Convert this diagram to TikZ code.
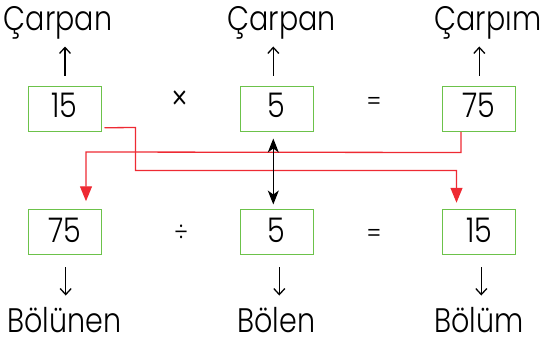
\documentclass[tikz,border=0pt]{standalone}
\usepackage{fontspec}
\setmainfont{Poppins Light}[FakeStretch=0.84]
\usetikzlibrary{arrows.meta,calc}
\definecolor{boxgreen}{HTML}{6CC24A}
\definecolor{linered}{HTML}{EE2A33}
\begin{document}
\begin{tikzpicture}[x=1pt,y=-1pt,
  numbox/.style={draw=boxgreen,line width=1pt,minimum width=73pt,minimum height=44.5pt,inner sep=0pt,text depth=0pt,font=\fontsize{34}{36}\selectfont},
  toprow/.style={numbox,text height=16.6pt},
  botrow/.style={numbox,text height=21pt},
  word/.style={inner sep=0pt,font=\fontsize{34}{36}\selectfont},
  opsign/.style={inner sep=0pt,font=\fontsize{26}{28}\selectfont},
  lblarrow/.style={line width=1.3pt,-{Straight Barb[length=6pt,width=11pt,line width=1.3pt]}},
  redline/.style={draw=linered,color=linered,line width=1.3pt,-{Triangle[length=15pt,width=12pt]}},
  dblarrow/.style={line width=1.2pt,{Stealth[length=14pt,width=11pt,inset=4pt]}-{Stealth[length=14pt,width=11pt,inset=4pt]}}]
\useasboundingbox (0,0) rectangle (542,341);
% top row
\node[toprow] (t1) at (64.5,109) {15};
\node[toprow] (t2) at (276.5,109) {5};
\node[toprow] (t3) at (479,109) {75};
\node[opsign,font=\fontsize{34}{36}\selectfont] (mul) at (180,100.5) {×};
\node[opsign] (eq1) at (374,103.5) {=};
% bottom row
\node[botrow] (b1) at (64.5,232) {75};
\node[botrow] (b2) at (276.5,232) {5};
\node[botrow] (b3) at (479,232) {15};
\node[opsign] (div) at (181,233) {÷};
\node[opsign] (eq2) at (374,235.5) {=};
% labels
\node[word,anchor=base] (l1) at (58,30) {Çarpan};
\node[word,anchor=base] (l2) at (281.5,30) {Çarpan};
\node[word,anchor=base] (l3) at (488,30) {Çarpım};
\node[word,anchor=base] (m1) at (64.5,332) {Bölünen};
\node[word,anchor=base] (m2) at (276.3,332) {Bölen};
\node[word,anchor=base] (m3) at (479,332) {Bölüm};
% label arrows
\draw[lblarrow] ($(t1.north)+(0.5,-10.75)$) -- ($(t1.north)+(0.5,-39.75)$);
\draw[lblarrow] ($(t2.north)+(-3.2,-10.75)$) -- ($(t2.north)+(-3.2,-39.75)$);
\draw[lblarrow] ($(t3.north)+(0.3,-10.75)$) -- ($(t3.north)+(0.3,-39.75)$);
\draw[lblarrow] ($(b1.south)+(1.2,12.5)$) -- ($(b1.south)+(1.2,40.75)$);
\draw[lblarrow] ($(b2.south)+(2.8,12.5)$) -- ($(b2.south)+(2.8,40.75)$);
\draw[lblarrow] ($(b3.south)+(2.3,12.5)$) -- ($(b3.south)+(2.3,40.75)$);
% red connectors
\coordinate (r1s) at ($(t1.south east)+(3,-4)$);
\coordinate (r1e) at ($(b3.north)+(-22.5,-6.5)$);
\coordinate (r1a) at (135.5,127.5);
\coordinate (r1b) at (135.5,170.5);
\draw[redline] (r1s) -- (r1a) -- (r1b) -| (r1e);
\coordinate (r2s) at ($(t3.south)+(-18,0)$);
\coordinate (r2c) at ($(t3.south)+(-18,20.75)$);
\coordinate (r2a) at (86,152);
\coordinate (r2e) at ($(b1.north)+(21.5,-8)$);
\draw[redline] (r2s) -- (r2c) -- (r2a) -- (r2e);
% black double arrow
\draw[dblarrow] ($(t2.south)+(-3.2,6.75)$) -- ($(b2.north)+(-3.2,-4.75)$);
\end{tikzpicture}
\end{document}
